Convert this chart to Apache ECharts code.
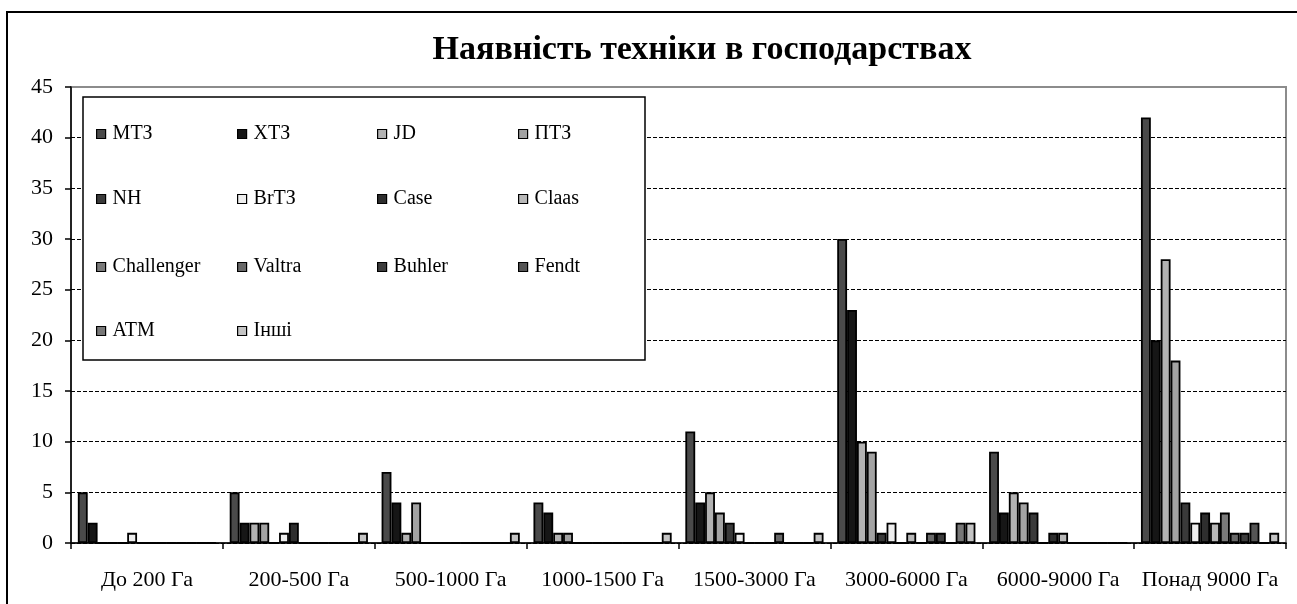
<!DOCTYPE html>
<html>
<head>
<meta charset="utf-8">
<script src="https://cdn.jsdelivr.net/npm/echarts@6/dist/echarts.min.js"></script>
<style>
  html, body { margin: 0; padding: 0; background: #fff; }
  #chart { width: 1297px; height: 604px; }
</style>
</head>
<body>
<div id="chart"></div>
<script>
var categories = ['До 200 Га', '200-500 Га', '500-1000 Га', '1000-1500 Га', '1500-3000 Га', '3000-6000 Га', '6000-9000 Га', 'Понад 9000 Га'];

var mtz        = [5, 5, 7, 4, 11, 30, 9, 42];
var htz        = [2, 2, 4, 3, 4, 23, 3, 20];
var jd         = [0, 2, 1, 1, 5, 10, 5, 28];
var ptz        = [0, 2, 4, 1, 3, 9, 4, 18];
var nh         = [0, 0, 0, 0, 2, 1, 3, 4];
var brtz       = [1, 1, 0, 0, 1, 2, 0, 2];
var caseTr     = [0, 2, 0, 0, 0, 0, 1, 3];
var claas      = [0, 0, 0, 0, 0, 1, 1, 2];
var challenger = [0, 0, 0, 0, 0, 0, 0, 3];
var valtra     = [0, 0, 0, 0, 1, 1, 0, 1];
var buhler     = [0, 0, 0, 0, 0, 1, 0, 1];
var fendt      = [0, 0, 0, 0, 0, 0, 0, 2];
var atm        = [0, 0, 0, 0, 0, 2, 0, 0];
var other      = [0, 1, 1, 1, 1, 2, 0, 1];

var seriesNames = ['МТЗ', 'ХТЗ', 'JD', 'ПТЗ', 'NH', 'BrТЗ', 'Case', 'Claas', 'Challenger', 'Valtra', 'Buhler', 'Fendt', 'ATM', 'Інші'];
var seriesData = [mtz, htz, jd, ptz, nh, brtz, caseTr, claas, challenger, valtra, buhler, fendt, atm, other];
var seriesColors = ['#4a4a4a', '#161616', '#b2b2b2', '#a3a3a3', '#3a3a3a', '#eeeeee', '#2e2e2e', '#b8b8b8',
                    '#7a7a7a', '#686868', '#3c3c3c', '#555555', '#777777', '#c4c4c4'];

var FONT = '"Liberation Serif", "Times New Roman", serif';

// legend laid out as a 4-column table
var legendCols = [96, 237, 377, 518];
var legendRows = [124, 189, 257, 321];
var legends = seriesNames.map(function (name, i) {
    return {
        data: [name],
        left: legendCols[i % 4],
        top: legendRows[Math.floor(i / 4)],
        z: 10,
        padding: 0,
        itemWidth: 9,
        itemHeight: 9,
        itemGap: 0,
        icon: 'rect',
        itemStyle: { borderColor: '#000', borderWidth: 1.2 },
        textStyle: { fontFamily: FONT, fontSize: 20, color: '#000', padding: [0, 0, 0, 2] },
        selectedMode: false
    };
});

var splitColors = [];
for (var k = 0; k < 9; k++) splitColors.push('#000');
splitColors.push('rgba(0,0,0,0)');

var chart = echarts.init(document.getElementById('chart'));
var option = {
    animation: false,
    backgroundColor: '#fff',
    title: {
        text: 'Наявність техніки в господарствах',
        left: 697,
        top: 28,
        textAlign: 'center',
        textStyle: { fontFamily: FONT, fontSize: 34, fontWeight: 'bold', color: '#000' }
    },
    legend: legends,
    grid: {
        left: 71, right: 11, top: 87, bottom: 61,
        show: true, borderColor: '#8c8c8c', borderWidth: 2, backgroundColor: 'transparent'
    },
    xAxis: {
        type: 'category',
        data: categories,
        axisLine: { lineStyle: { color: '#000', width: 1.5 } },
        axisTick: { show: true, length: 6, alignWithLabel: false, lineStyle: { color: '#000', width: 1.5 } },
        axisLabel: { fontFamily: FONT, fontSize: 22, color: '#000', margin: 26, interval: 0 }
    },
    yAxis: {
        type: 'value',
        min: 0, max: 45, interval: 5,
        axisLine: { show: true, lineStyle: { color: '#000', width: 1.5 } },
        axisTick: { show: true, length: 6, lineStyle: { color: '#000', width: 1.5 } },
        axisLabel: { fontFamily: FONT, fontSize: 22, color: '#000', margin: 18 },
        splitLine: { show: true, lineStyle: { color: splitColors, type: [4, 2], width: 1 } }
    },
    graphic: [
        { type: 'rect', shape: { x: 7, y: 12, width: 1400, height: 700 },
          style: { fill: 'none', stroke: '#000', lineWidth: 2 }, silent: true, z: 0 },
        { type: 'rect', shape: { x: 83, y: 97, width: 562, height: 263 },
          style: { fill: '#fff', stroke: '#000', lineWidth: 1.5 }, silent: true, z: 5 }
    ],
    series: seriesNames.map(function (name, i) {
        return {
            name: name,
            type: 'bar',
            data: seriesData[i],
            barGap: '0%',
            barCategoryGap: '9%',
            itemStyle: { color: seriesColors[i], borderColor: '#000', borderWidth: 1.8 },
            emphasis: { disabled: true }
        };
    })
};
chart.setOption(option);
</script>
</body>
</html>
